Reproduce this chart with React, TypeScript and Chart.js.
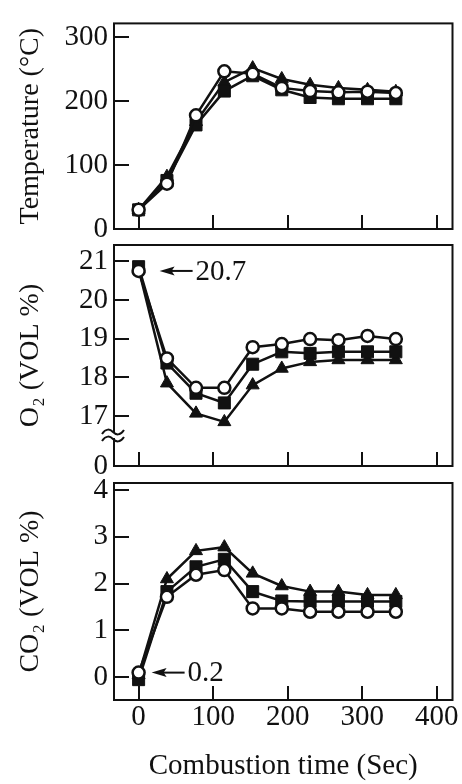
import React, { useEffect, useRef } from 'react';
import { Chart, registerables } from 'chart.js';

Chart.register(...registerables);

const W = 462;
const H = 784;
const FONT = "'Liberation Serif', 'Times New Roman', serif";
const INK = '#111111';

// ---- data ----
const timeSec = [0, 38, 77, 115, 153, 192, 230, 268, 307, 345];

const tempCircle = [30, 71, 178, 247, 243, 221, 216, 214, 215, 213];
const tempSquare = [30, 76, 163, 216, 240, 218, 206, 204, 204, 204];
const tempTriangle = [30, 82, 168, 230, 252, 235, 226, 221, 218, 215];

const o2Circle = [20.75, 18.49, 17.73, 17.73, 18.78, 18.86, 18.99, 18.96, 19.07, 18.99];
const o2Square = [20.86, 18.37, 17.59, 17.34, 18.34, 18.66, 18.62, 18.66, 18.66, 18.66];
const o2Triangle = [20.8, 17.85, 17.07, 16.85, 17.8, 18.23, 18.4, 18.45, 18.45, 18.45];

const co2Circle = [0.1, 1.72, 2.19, 2.29, 1.47, 1.47, 1.4, 1.4, 1.4, 1.4];
const co2Square = [-0.05, 1.83, 2.36, 2.52, 1.83, 1.63, 1.62, 1.62, 1.62, 1.62];
const co2Triangle = [0.05, 2.1, 2.7, 2.78, 2.22, 1.95, 1.83, 1.83, 1.76, 1.76];

const xTickValues = [0, 100, 200, 300, 400];
const tempTickValues = [0, 100, 200, 300];
const o2TickValues = [17, 18, 19, 20, 21];
const co2TickValues = [0, 1, 2, 3, 4];

const o2BreakLabel = '0';
const o2Note = '20.7';
const co2Note = '0.2';

const xTitle = 'Combustion time (Sec)';
const tempTitle = 'Temperature (°C)';
const o2Title = 'O₂ (VOL %)';
const co2Title = 'CO₂ (VOL %)';

// ---- panel layout ----
const X_MIN = -33;
const X_MAX = 421;

type PanelDef = {
  key: string;
  title: string;
  yMin: number;
  yMax: number;
  yTicks: number[];
  bottomLabel?: string;
  series: number[][];
  top: number;
  bottom: number;
  showX: boolean;
  note?: { text: string; at: number; gap: number };
  brk?: boolean;
};

const panels: PanelDef[] = [
  {
    key: 'temp', title: tempTitle, yMin: 0, yMax: 322, yTicks: tempTickValues,
    series: [tempTriangle, tempSquare, tempCircle], top: 7, bottom: 229, showX: false,
  },
  {
    key: 'o2', title: o2Title, yMin: 15.71, yMax: 21.42, yTicks: o2TickValues, bottomLabel: o2BreakLabel,
    series: [o2Triangle, o2Square, o2Circle], top: 245, bottom: 466, showX: false,
    note: { text: o2Note, at: o2Circle[0], gap: 21 }, brk: true,
  },
  {
    key: 'co2', title: co2Title, yMin: -0.485, yMax: 4.15, yTicks: co2TickValues,
    series: [co2Triangle, co2Square, co2Circle], top: 483, bottom: 700, showX: true,
    note: { text: co2Note, at: co2Circle[0], gap: 13 },
  },
];

const markerStyles = [
  { pointStyle: 'triangle', pointRadius: 7.5, pointBackgroundColor: INK, pointBorderWidth: 1, order: 3 },
  { pointStyle: 'rect', pointRadius: 8.5, pointBackgroundColor: INK, pointBorderWidth: 1, order: 2 },
  { pointStyle: 'circle', pointRadius: 6, pointBackgroundColor: '#ffffff', pointBorderWidth: 2.5, order: 1 },
];

function makeFramePlugin(p: PanelDef) {
  return {
    id: 'frame_' + p.key,
    afterDraw(chart: any) {
      const { ctx, chartArea: a } = chart;
      const xs = chart.scales.x;
      const ys = chart.scales.y;
      ctx.save();
      ctx.strokeStyle = INK;
      ctx.fillStyle = INK;
      ctx.lineWidth = 2;
      ctx.strokeRect(a.left, a.top, a.right - a.left, a.bottom - a.top);
      ctx.beginPath();
      xTickValues.forEach((v) => {
        const px = Math.round(xs.getPixelForValue(v));
        ctx.moveTo(px, a.bottom);
        ctx.lineTo(px, a.bottom - 14);
      });
      p.yTicks.forEach((v) => {
        const py = Math.round(ys.getPixelForValue(v));
        if (py >= a.bottom - 1) return;
        ctx.moveTo(a.left, py);
        ctx.lineTo(a.left + 15, py);
      });
      ctx.stroke();

      if (p.note) {
        const tipX = xs.getPixelForValue(timeSec[0]) + p.note.gap;
        const y = ys.getPixelForValue(p.note.at);
        const len = 33;
        ctx.beginPath();
        ctx.moveTo(tipX + 10, y);
        ctx.lineTo(tipX + len, y);
        ctx.lineWidth = 2;
        ctx.stroke();
        ctx.beginPath();
        ctx.moveTo(tipX, y);
        ctx.lineTo(tipX + 15, y - 4.5);
        ctx.lineTo(tipX + 12, y);
        ctx.lineTo(tipX + 15, y + 4.5);
        ctx.closePath();
        ctx.fill();
        ctx.font = `29px ${FONT}`;
        ctx.textAlign = 'left';
        ctx.textBaseline = 'middle';
        ctx.fillText(p.note.text, tipX + len + 3, y + 1);
      }

      if (p.brk) {
        const cx = a.left - 1;
        const y1 = a.bottom - 34;
        const y2 = a.bottom - 27;
        ctx.fillStyle = '#ffffff';
        ctx.fillRect(cx - 3, y1 + 1, 6, y2 - y1 - 2);
        ctx.lineWidth = 2;
        [y1, y2].forEach((y) => {
          ctx.beginPath();
          ctx.moveTo(cx - 11, y + 2);
          ctx.bezierCurveTo(cx - 7, y - 4, cx - 3, y - 3, cx, y);
          ctx.bezierCurveTo(cx + 3, y + 3, cx + 7, y + 4, cx + 11, y - 2);
          ctx.stroke();
        });
      }
      ctx.restore();
    },
  };
}

function buildChart(canvas: HTMLCanvasElement, p: PanelDef) {
  const datasets = p.series.map((vals, i) => ({
    data: timeSec.map((t, j) => ({ x: t, y: vals[j] })),
    borderColor: INK,
    borderWidth: 2.5,
    pointBorderColor: INK,
    tension: 0,
    ...markerStyles[i],
  }));
  const tickFont = { family: FONT, size: 29 };
  return new Chart(canvas, {
    type: 'line',
    data: { datasets } as any,
    plugins: [makeFramePlugin(p)],
    options: {
      animation: false,
      responsive: false,
      events: [],
      layout: {
        padding: { left: 0, right: 7, top: p.top, bottom: p.showX ? 0 : H - p.bottom },
      },
      plugins: { legend: { display: false }, tooltip: { enabled: false } },
      scales: {
        x: {
          type: 'linear',
          min: X_MIN,
          max: X_MAX,
          display: p.showX,
          afterBuildTicks: (s: any) => { s.ticks = xTickValues.map((v) => ({ value: v })); },
          afterFit: (s: any) => { s.height = p.showX ? H - p.bottom : 0; },
          grid: { display: false, drawTicks: false },
          border: { display: false },
          ticks: { font: tickFont, color: INK, padding: 0, autoSkip: false, maxRotation: 0 },
          title: {
            display: p.showX, text: xTitle, color: INK,
            font: { family: FONT, size: 29 }, padding: { top: 0, bottom: 0 },
          },
        },
        y: {
          type: 'linear',
          min: p.yMin,
          max: p.yMax,
          afterBuildTicks: (s: any) => {
            const t = p.yTicks.map((v) => ({ value: v }));
            if (p.bottomLabel) t.unshift({ value: p.yMin });
            s.ticks = t;
          },
          afterFit: (s: any) => { s.width = 114; },
          grid: { display: false, drawTicks: false },
          border: { display: false },
          ticks: {
            font: tickFont, color: INK, padding: 6, autoSkip: false,
            callback: (v: any) => (p.bottomLabel && v === p.yMin ? p.bottomLabel : String(v)),
          },
          title: {
            display: true, text: p.title, color: INK,
            font: { family: FONT, size: 28 }, padding: { top: 14, bottom: 0 },
          },
        },
      },
    } as any,
  });
}

export default function App() {
  const r0 = useRef<HTMLCanvasElement>(null);
  const r1 = useRef<HTMLCanvasElement>(null);
  const r2 = useRef<HTMLCanvasElement>(null);

  useEffect(() => {
    const refs = [r0, r1, r2];
    const charts = panels.map((p, i) => buildChart(refs[i].current as HTMLCanvasElement, p));
    return () => charts.forEach((c) => c.destroy());
  }, []);

  const cs: React.CSSProperties = { position: 'absolute', left: 0, top: 0, width: W, height: H };
  return (
    <div style={{ position: 'absolute', left: 0, top: 0, width: W, height: H, background: '#fff' }}>
      <canvas ref={r0} width={W} height={H} style={cs} />
      <canvas ref={r1} width={W} height={H} style={cs} />
      <canvas ref={r2} width={W} height={H} style={cs} />
    </div>
  );
}
